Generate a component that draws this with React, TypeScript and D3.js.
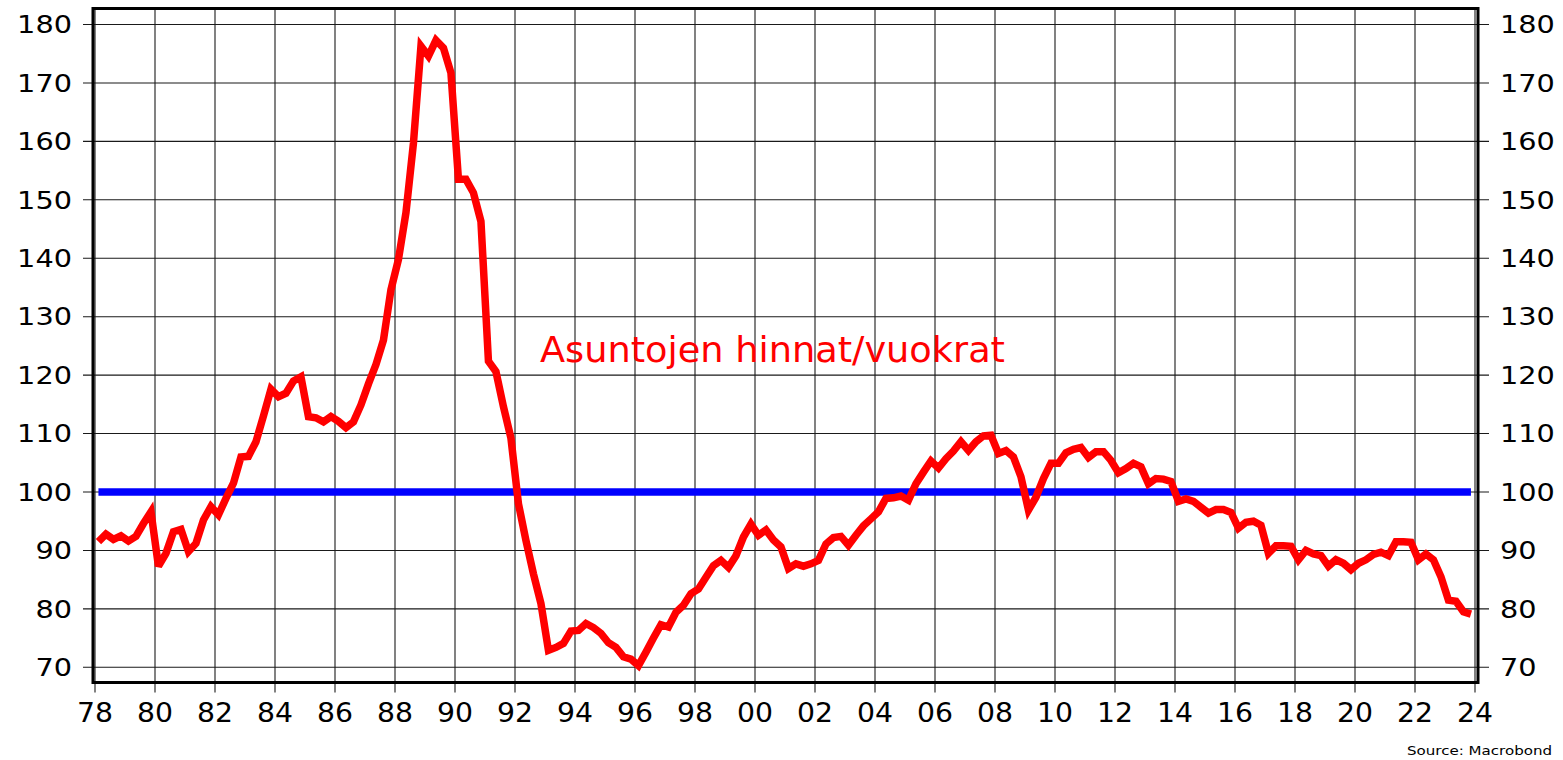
import React, { useEffect, useRef } from 'react'
import * as d3 from 'd3'

// quarterly ratio, 1978Q1 .. 2023Q4 (one row per year)
const ratio = [
  91.5, 92.8, 91.9, 92.5, // 78
  91.6, 92.4, 94.6, 96.6,
  87.3, 89.5, 93.2, 93.6, // 80
  89.8, 91.2, 95.2, 97.5,
  96.1, 98.9, 101.5, 106.0, // 82
  106.1, 108.6, 113.0, 117.6,
  116.3, 116.9, 119.0, 119.7, // 84
  112.9, 112.7, 112.0, 112.9,
  112.1, 111.0, 112.0, 114.9, // 86
  118.5, 121.8, 126.0, 134.6,
  139.8, 147.8, 159.7, 176.3, // 88
  174.6, 177.3, 176.0, 171.7,
  153.5, 153.5, 151.2, 146.3, // 90
  122.4, 120.6, 114.6, 109.2,
  98.0, 91.7, 86.0, 80.9, // 92
  72.9, 73.4, 74.1, 76.2,
  76.3, 77.5, 76.8, 75.8, // 94
  74.2, 73.4, 71.8, 71.4,
  70.3, 72.6, 75.0, 77.3, // 96
  76.9, 79.4, 80.6, 82.6,
  83.4, 85.4, 87.4, 88.3, // 98
  87.1, 89.1, 92.3, 94.5,
  92.6, 93.5, 91.8, 90.6, // 00
  86.9, 87.7, 87.3, 87.7,
  88.3, 91.1, 92.2, 92.4, // 02
  90.9, 92.6, 94.2, 95.4,
  96.6, 98.9, 99.0, 99.3, // 04
  98.6, 101.4, 103.4, 105.3,
  104.1, 105.7, 107.0, 108.6, // 06
  107.1, 108.6, 109.6, 109.7,
  106.6, 107.1, 106.0, 102.6, // 08
  96.9, 99.1, 102.3, 104.9,
  104.9, 106.7, 107.3, 107.6, // 10
  105.9, 106.9, 106.9, 105.4,
  103.3, 104.0, 104.9, 104.3, // 12
  101.4, 102.3, 102.2, 101.8,
  98.4, 98.8, 98.4, 97.4, // 14
  96.4, 97.0, 97.0, 96.5,
  93.8, 94.8, 95.0, 94.3, // 16
  89.5, 90.8, 90.8, 90.7,
  88.4, 90.0, 89.4, 89.1, // 18
  87.3, 88.4, 87.8, 86.7,
  87.8, 88.4, 89.3, 89.7, // 20
  89.1, 91.5, 91.5, 91.4,
  88.4, 89.4, 88.4, 85.5, // 22
  81.5, 81.3, 79.5, 79.1,
]
const startYear = 1978
const baseline = 100
const yTicks = [70, 80, 90, 100, 110, 120, 130, 140, 150, 160, 170, 180]
const xTicks = d3.range(1978, 2025, 2)
const title = 'Asuntojen hinnat/vuokrat'
const source = 'Source: Macrobond'

const W = 1563
const H = 760
const FONT = '"DejaVu Sans", sans-serif'

export default function App() {
  const ref = useRef<SVGSVGElement>(null)

  useEffect(() => {
    if (!ref.current) return
    const svg = d3.select(ref.current)
    svg.selectAll('*').remove()

    const frame = { left: 93, right: 1478, top: 8.5, bottom: 682.5 }
    const x = d3.scaleLinear().domain([1978, 2024]).range([95, 1475])
    const y = d3.scaleLinear().domain([70, 180]).range([667.3, 24.5])

    const data = ratio.map((v, i) => ({ t: startYear + i / 4 + 0.115, v }))

    // grid + ticks
    const grid = svg.append('g').attr('stroke', '#1a1a1a').attr('stroke-width', 1.1)
    grid.selectAll('.vg').data(xTicks).enter().append('line')
      .attr('x1', (d) => x(d)).attr('x2', (d) => x(d))
      .attr('y1', frame.top).attr('y2', frame.bottom + 10)
    grid.selectAll('.hg').data(yTicks).enter().append('line')
      .attr('y1', (d) => y(d)).attr('y2', (d) => y(d))
      .attr('x1', frame.left - 10).attr('x2', frame.right + 11)

    // frame
    svg.append('rect')
      .attr('x', frame.left).attr('y', frame.top)
      .attr('width', frame.right - frame.left).attr('height', frame.bottom - frame.top)
      .attr('fill', 'none').attr('stroke', '#000').attr('stroke-width', 3)

    // y labels both sides
    const lab = svg.append('g').attr('font-family', FONT).attr('font-size', 24).attr('fill', '#000')
    lab.selectAll('.yl').data(yTicks).enter().append('text')
      .attr('x', 72).attr('y', (d) => y(d) + 8.8)
      .attr('text-anchor', 'end')
      .attr('textLength', (d) => String(d).length * 18.3)
      .attr('lengthAdjust', 'spacingAndGlyphs')
      .text((d) => d)
    lab.selectAll('.yr').data(yTicks).enter().append('text')
      .attr('x', 1500).attr('y', (d) => y(d) + 8.8)
      .attr('textLength', (d) => String(d).length * 18.3)
      .attr('lengthAdjust', 'spacingAndGlyphs')
      .text((d) => d)
    lab.selectAll('.xl').data(xTicks).enter().append('text')
      .attr('x', (d) => x(d)).attr('y', 722)
      .attr('text-anchor', 'middle')
      .attr('font-size', 26)
      .attr('textLength', 36)
      .attr('lengthAdjust', 'spacingAndGlyphs')
      .text((d) => d3.format('02d')(d % 100))

    // series
    const line = d3.line<{ t: number; v: number }>().x((d) => x(d.t)).y((d) => y(d.v))
    svg.append('path')
      .datum(data.map((d) => ({ t: d.t, v: baseline })))
      .attr('d', line).attr('fill', 'none')
      .attr('stroke', '#0000ff').attr('stroke-width', 7.5)
    svg.append('path')
      .datum(data)
      .attr('d', line).attr('fill', 'none')
      .attr('stroke', '#ff0000').attr('stroke-width', 7.5)
      .attr('stroke-linejoin', 'miter').attr('stroke-miterlimit', 3)

    svg.append('text')
      .attr('x', 540).attr('y', 362)
      .attr('font-family', FONT).attr('font-size', 36).attr('fill', '#ff0000')
      .attr('textLength', 465).attr('lengthAdjust', 'spacingAndGlyphs')
      .text(title)

    svg.append('text')
      .attr('x', 1552).attr('y', 755)
      .attr('text-anchor', 'end')
      .attr('font-family', FONT).attr('font-size', 13).attr('fill', '#000')
      .attr('textLength', 145).attr('lengthAdjust', 'spacingAndGlyphs')
      .text(source)
  }, [])

  return (
    <svg
      ref={ref}
      width={W}
      height={H}
      style={{ position: 'absolute', left: 0, top: 0, background: '#fff' }}
    />
  )
}
